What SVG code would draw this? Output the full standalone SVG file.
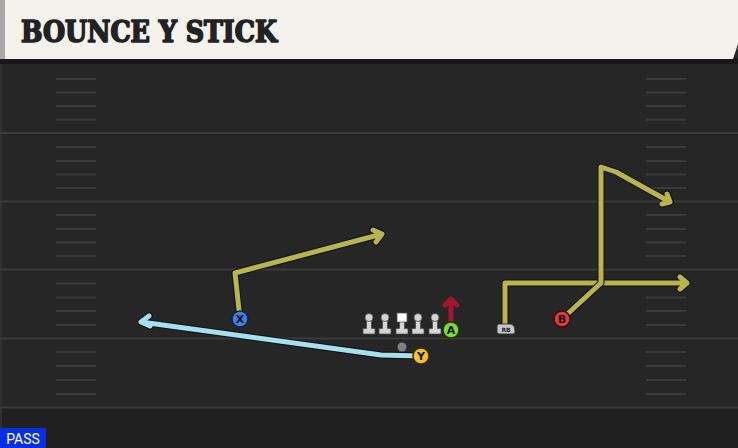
<svg xmlns="http://www.w3.org/2000/svg" width="738" height="448" viewBox="0 0 738 448">
  <style>
    .yard { stroke: #3b3b3b; stroke-width: 2; }
    .hash { stroke: #3a3a3a; stroke-width: 2; }
    .outline { fill: none; stroke: #0e0e14; stroke-width: 7; stroke-linejoin: round; stroke-linecap: round; }
    .route { fill: none; stroke-width: 5; stroke-linejoin: round; stroke-linecap: round; }
    .yel { stroke: #b7b54c; }
    .blu { stroke: #a6dfee; }
    .red { stroke: #a2162e; }
    .lbl { font-family: "DejaVu Sans", sans-serif; font-weight: bold; font-size: 11px; text-anchor: middle; fill: #111; }
    .lineman { fill: #d4d4d4; stroke: #4a4a4a; stroke-width: 0.8; }
  </style>
  <!-- field -->
  <rect x="0" y="0" width="738" height="448" fill="#262626"/>
  <rect x="0" y="408" width="738" height="40" fill="#202020"/>
  <rect x="0" y="63" width="2" height="385" fill="#303030"/>
  <g id="yardlines">
    <line class="yard" x1="0" y1="133" x2="738" y2="133"/>
    <line class="yard" x1="0" y1="201.5" x2="738" y2="201.5"/>
    <line class="yard" x1="0" y1="269.5" x2="738" y2="269.5"/>
    <line class="yard" x1="0" y1="338.5" x2="738" y2="338.5"/>
    <line class="yard" x1="0" y1="407.5" x2="738" y2="407.5"/>
  </g>
  <g id="hashes">
    <path class="hash" d="M56 79H96M56 92.5H96M56 106H96M56 119.5H96M56 147H96M56 161H96M56 174.5H96M56 188H96M56 215H96M56 229H96M56 242.5H96M56 256H96M56 283.5H96M56 297.5H96M56 311H96M56 325H96M56 352H96M56 366H96M56 380H96M56 394H96"/>
    <path class="hash" d="M646 79H686M646 92.5H686M646 106H686M646 119.5H686M646 147H686M646 161H686M646 174.5H686M646 188H686M646 215H686M646 229H686M646 242.5H686M646 256H686M646 283.5H686M646 297.5H686M646 311H686M646 325H686M646 352H686M646 366H686M646 380H686M646 394H686"/>
  </g>
  <!-- header -->
  <g id="header">
    <rect x="0" y="58" width="738" height="6" fill="#191919"/>
    <path d="M0 0H738V44L733 59H0Z" fill="#f4f2ec"/>
    <rect x="0" y="0" width="5" height="59" fill="#a9aaa8"/>
    <text x="21" y="42" font-family="DejaVu Serif Condensed, DejaVu Serif, serif" font-weight="bold" font-size="29" fill="#222" stroke="#222" stroke-width="1.6" stroke-linejoin="round" textLength="256" lengthAdjust="spacingAndGlyphs">BOUNCE Y STICK</text>
  </g>
  <!-- connectors -->
  <g id="connectors">
    <path class="outline" d="M240 319L235 273L382 234M373 230L382 234L376 242"/>
    <path class="route yel" d="M240 319L235 273L382 234M373 230L382 234L376 242"/>
    <path class="outline" d="M421 356L381 355L141 322M149 316L141 322L150 326"/>
    <path class="route blu" d="M421 356L381 355L141 322M149 316L141 322L150 326"/>
    <path class="outline" d="M505 326V283H687M680 277L687 283L680 289"/>
    <path class="route yel" d="M505 326V283H687M680 277L687 283L680 289"/>
    <path class="outline" d="M562 319L601 283V167L616 172L670 202M667 194L670 202L662 204"/>
    <path class="route yel" d="M562 319L601 283V167L616 172L670 202M667 194L670 202L662 204"/>
    <path class="route red" d="M451 322V299M445 305L451 299L457 305"/>
  </g>
  <!-- linemen -->
  <defs>
    <g id="lm">
      <path class="lineman" d="M-2.5 -7H2.5V2.5H6V8H-6V2.5H-2.5Z"/>
      <circle class="lineman" cx="0" cy="-8.5" r="4"/>
    </g>
  </defs>
  <g id="lt"><use href="#lm" x="369" y="326"/></g>
  <g id="lg"><use href="#lm" x="385" y="326"/></g>
  <g id="c">
    <path class="lineman" d="M399.5 320H404.5V328.5H408V334H396V328.5H399.5Z"/>
    <rect x="397" y="313" width="10" height="9" fill="#ffffff" stroke="#555" stroke-width="0.8"/>
  </g>
  <g id="rg"><use href="#lm" x="418" y="326"/></g>
  <g id="rt"><use href="#lm" x="435" y="326"/></g>
  <g id="qb"><circle cx="402" cy="347" r="4.5" fill="#808080"/></g>
  <g id="rb">
    <path d="M497 326Q497 324 499 324H511Q515 325 515 330V332Q515 334 513 334H499Q497 334 497 332Z" fill="#c8c8c8" stroke="#333" stroke-width="1"/>
    <text x="506" y="332" font-family="DejaVu Sans, sans-serif" font-size="6" font-weight="bold" text-anchor="middle" fill="#222">RB</text>
  </g>
  <g id="X">
    <circle cx="240" cy="319" r="8" fill="#3a82e8" stroke="#13233a" stroke-width="1.5"/>
    <text class="lbl" x="240" y="323">X</text>
  </g>
  <g id="Y">
    <circle cx="421" cy="356" r="8" fill="#f0c42c" stroke="#3a2e0a" stroke-width="1.5"/>
    <text class="lbl" x="421" y="360">Y</text>
  </g>
  <g id="A">
    <circle cx="451" cy="330" r="8" fill="#7ed83a" stroke="#1c3a0a" stroke-width="1.5"/>
    <text class="lbl" x="451" y="334">A</text>
  </g>
  <g id="B">
    <circle cx="562" cy="319" r="8" fill="#e23838" stroke="#3a0c0c" stroke-width="1.5"/>
    <text class="lbl" x="562" y="323">B</text>
  </g>
  <g id="pass">
    <rect x="0" y="428" width="46" height="20" fill="#0a2ee6"/>
    <text x="23" y="444" font-family="Roboto, sans-serif" font-size="14" text-anchor="middle" fill="#ffffff">PASS</text>
  </g>
</svg>
